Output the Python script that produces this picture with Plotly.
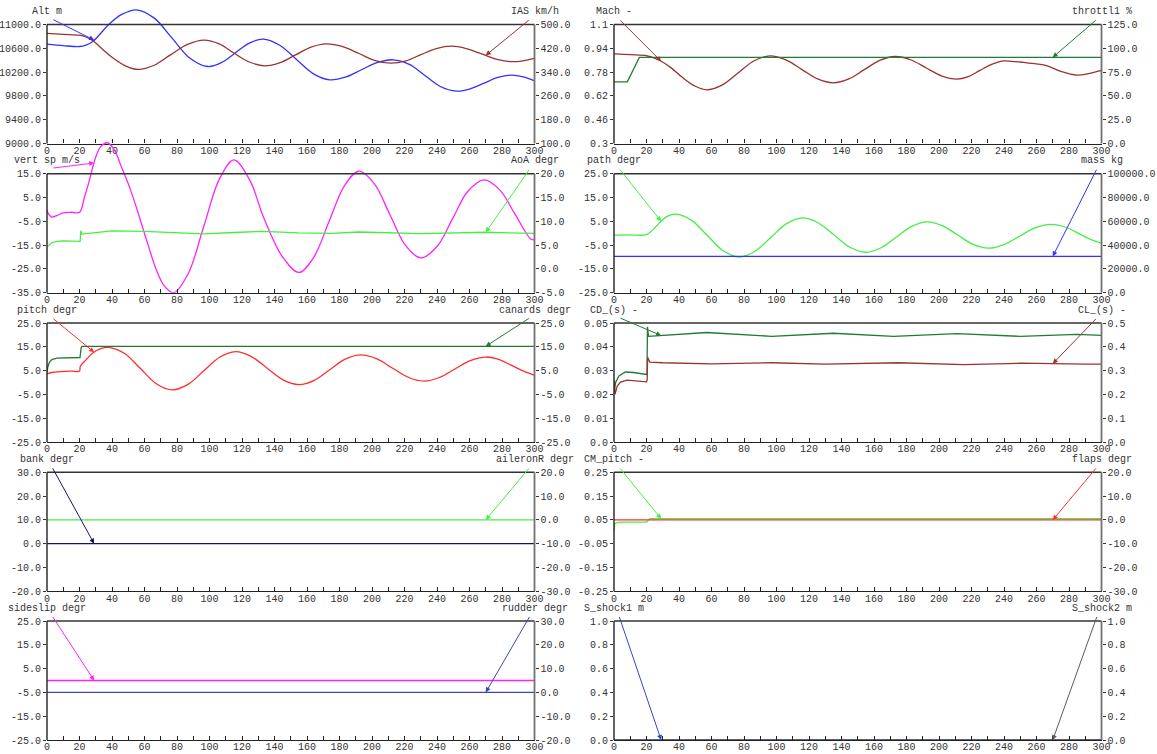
import numpy as np
import plotly.graph_objects as go

# ---------------- data ----------------
alt_t = [0, 10, 20, 24, 28, 33, 38, 46, 55, 66, 77, 88, 99, 107.5, 116, 124.5, 133, 143, 153.5, 164, 174, 184, 193.5, 203, 213, 223, 232.5, 242, 252, 260.5, 269, 277.5, 286, 293, 300]
alt_v = [10670, 10645, 10630, 10655, 10710, 10850, 11000, 11170, 11247, 11107, 10770, 10433, 10294, 10362, 10525, 10688, 10755, 10655, 10413, 10171, 10071, 10120, 10239, 10358, 10407, 10330, 10144, 9958, 9881, 9920, 10015, 10110, 10150, 10120, 10054]

ias_t = [0, 10, 20, 24, 28, 34, 40, 48, 56, 66, 76, 86.5, 96.5, 106, 115, 124.5, 134, 143.5, 153, 162.5, 172, 182, 192, 201.5, 211.5, 221, 230, 239.5, 249, 258, 267.5, 277, 286, 293, 300]
ias_v = [470, 467, 464, 458, 446, 418, 390, 362, 349, 363, 398, 433, 447.6, 435, 404, 374, 361, 372, 398, 424, 435, 425.5, 402.5, 379.5, 370, 378, 398.5, 419, 427, 419, 401, 383, 375, 378, 386]

vs_t = [0, 1, 3, 6, 10, 15, 20, 23, 26, 30, 33, 37, 41, 46, 51.5, 57, 62, 67.5, 72, 78, 87, 96.5, 106, 115, 125, 133, 145, 155, 164, 173.5, 183, 192, 201.5, 211, 220.5, 230, 240, 249.5, 259, 269, 278.5, 288, 297.5, 300]
vs_v = [-0.2, -2.0, -3.2, -2.6, -1.5, -1.2, -1.2, 5, 12, 22, 26.3, 28, 25.5, 17.5, 8, -3.5, -14.5, -25.8, -32, -35, -26.8, -7.1, 12.6, 20.8, 12, -2.85, -20, -26.5, -20.3, -5.2, 9.9, 16.1, 10.75, -2.15, -15, -20.4, -15.6, -4, 7.6, 12.4, 8.3, -2, -12.3, -12.8]

aoa_t = [0, 1, 3, 6, 10, 15, 20, 20.4, 20.8, 21.5, 30, 40, 60, 77, 96, 115, 133, 155, 175, 192, 230, 270, 300]
aoa_v = [4.7, 4.9, 5.5, 5.8, 5.9, 5.8, 5.7, 5.8, 8.0, 7.3, 7.6, 8.0, 7.9, 7.65, 7.35, 7.65, 7.9, 7.55, 7.45, 7.75, 7.4, 7.7, 7.45]

pitch_t = [0, 3, 8, 15, 20, 20.5, 24, 28, 33, 38, 47.75, 57.5, 67.25, 77, 86.75, 96.5, 106.25, 116, 125.75, 135.5, 145.25, 155, 164.5, 174, 183.5, 193, 202.75, 212.5, 222.25, 232, 241.5, 251, 260.5, 270, 277.5, 285, 292.5, 300]
pitch_v = [3.6, 4.2, 4.6, 4.8, 4.8, 6.8, 9.5, 12.3, 14.2, 14.8, 12.2, 5.85, -0.5, -3.1, -0.8, 4.9, 10.6, 12.95, 10.9, 6.0, 1.1, -0.9, 0.9, 5.35, 9.8, 11.6, 10.0, 6.1, 2.2, 0.6, 2.1, 5.65, 9.2, 10.7, 9.8, 7.5, 5.0, 3.1]

canard_t = [0, 0.5, 1.5, 3, 6, 10, 20, 20.3, 21, 21.5, 300]
canard_v = [4.4, 6.5, 8.5, 9.6, 10.2, 10.3, 10.3, 10.5, 14.5, 15.2, 15.2]

bank_t = [0, 300]
bank_v = [0.0, 0.0]
ail_t = [0, 300]
ail_v = [0.0, 0.0]
slip_t = [0, 300]
slip_v = [0.0, 0.0]
rud_t = [0, 300]
rud_v = [0.0, 0.0]

mach_t = [0, 10, 20, 24, 28, 35, 42, 50, 57, 66.75, 76.5, 86.25, 96, 105.75, 115.5, 125.25, 135, 144.5, 154, 163.5, 173, 182.5, 192, 201.5, 211, 218, 225, 232, 238.6, 245, 252, 260, 266.6, 275, 285, 292, 300]
mach_v = [0.903, 0.897, 0.89, 0.878, 0.86, 0.81, 0.745, 0.685, 0.661, 0.694, 0.775, 0.856, 0.889, 0.862, 0.7985, 0.734, 0.708, 0.734, 0.7965, 0.859, 0.885, 0.863, 0.809, 0.755, 0.733, 0.75, 0.79, 0.83, 0.854, 0.852, 0.845, 0.835, 0.822, 0.785, 0.76, 0.77, 0.791]

throt_t = [0, 8.2, 15.6, 300]
throt_v = [64.8, 64.8, 90.5, 90.5]

path_t = [0, 10, 20, 24, 29, 33, 38, 47.75, 57.5, 67.25, 77, 86.75, 96.5, 106.25, 116, 125.75, 135.5, 145.25, 155, 164.4, 173.8, 183.2, 192.6, 202, 211.5, 221, 230.5, 240, 249.5, 259, 268.6, 278, 287, 294, 300]
path_v = [-0.8, -0.7, -0.6, 1.5, 5, 7.2, 8.0, 5.4, -1, -7.4, -10, -7.6, -1.8, 4.0, 6.4, 4.3, -0.8, -5.9, -8, -6.1, -1.6, 2.9, 4.8, 3.2, -0.75, -4.7, -6.3, -4.8, -1.3, 2.2, 3.7, 2.5, -0.5, -2.8, -4.2]

mass_t = [0, 300]
mass_v = [30500, 30500]

cd_t = [0, 0.5, 1, 3, 7, 12, 20, 20.3, 20.6, 21.2, 30, 57, 97, 135, 172, 211, 250, 285, 300]
cd_v = [0.0205, 0.024, 0.025, 0.0278, 0.0294, 0.0292, 0.0284, 0.029, 0.0484, 0.0444, 0.0448, 0.046, 0.0444, 0.0457, 0.0444, 0.0455, 0.0444, 0.0452, 0.0448]

cl_t = [0, 0.6, 2, 4, 8, 14, 20, 20.4, 20.7, 22, 30, 60, 97, 130, 175, 215, 250, 290, 300]
cl_v = [0.262, 0.2, 0.235, 0.252, 0.26, 0.257, 0.253, 0.26, 0.356, 0.336, 0.333, 0.328, 0.333, 0.327, 0.333, 0.325, 0.331, 0.327, 0.327]

cm_t = [0, 0.5, 3, 20, 21, 22, 300]
cm_v = [0.003, 0.035, 0.041, 0.041, 0.048, 0.055, 0.055]

flaps_t = [0, 300]
flaps_v = [0.0, 0.0]
sh1_t = [0, 300]
sh1_v = [0.0, 0.0]
sh2_t = [0, 300]
sh2_v = [0.0, 0.0]

# axis ticks / tick labels
alt_ticks = [9000, 9400, 9800, 10200, 10600, 11000]
alt_labels = ["9000.0", "9400.0", "9800.0", "10200.0", "10600.0", "11000.0"]
ias_ticks = [100, 180, 260, 340, 420, 500]
ias_labels = ["100.0", "180.0", "260.0", "340.0", "420.0", "500.0"]
vs_ticks = [-35, -25, -15, -5, 5, 15]
vs_labels = ["-35.0", "-25.0", "-15.0", "-5.0", "5.0", "15.0"]
aoa_ticks = [-5, 0, 5, 10, 15, 20]
aoa_labels = ["-5.0", "0.0", "5.0", "10.0", "15.0", "20.0"]
pitch_ticks = [-25, -15, -5, 5, 15, 25]
pitch_labels = ["-25.0", "-15.0", "-5.0", "5.0", "15.0", "25.0"]
canard_ticks = [-25, -15, -5, 5, 15, 25]
canard_labels = ["-25.0", "-15.0", "-5.0", "5.0", "15.0", "25.0"]
bank_ticks = [-20, -10, 0, 10, 20, 30]
bank_labels = ["-20.0", "-10.0", "0.0", "10.0", "20.0", "30.0"]
ail_ticks = [-30, -20, -10, 0, 10, 20]
ail_labels = ["-30.0", "-20.0", "-10.0", "0.0", "10.0", "20.0"]
slip_ticks = [-25, -15, -5, 5, 15, 25]
slip_labels = ["-25.0", "-15.0", "-5.0", "5.0", "15.0", "25.0"]
rud_ticks = [-20, -10, 0, 10, 20, 30]
rud_labels = ["-20.0", "-10.0", "0.0", "10.0", "20.0", "30.0"]
mach_ticks = [0.3, 0.46, 0.62, 0.78, 0.94, 1.1]
mach_labels = ["0.3", "0.46", "0.62", "0.78", "0.94", "1.1"]
throt_ticks = [0, 25, 50, 75, 100, 125]
throt_labels = ["0.0", "25.0", "50.0", "75.0", "100.0", "125.0"]
path_ticks = [-25, -15, -5, 5, 15, 25]
path_labels = ["-25.0", "-15.0", "-5.0", "5.0", "15.0", "25.0"]
mass_ticks = [0, 20000, 40000, 60000, 80000, 100000]
mass_labels = ["0.0", "20000.0", "40000.0", "60000.0", "80000.0", "100000.0"]
cd_ticks = [0.0, 0.01, 0.02, 0.03, 0.04, 0.05]
cd_labels = ["0.0", "0.01", "0.02", "0.03", "0.04", "0.05"]
cl_ticks = [0.0, 0.1, 0.2, 0.3, 0.4, 0.5]
cl_labels = ["0.0", "0.1", "0.2", "0.3", "0.4", "0.5"]
cm_ticks = [-0.25, -0.15, -0.05, 0.05, 0.15, 0.25]
cm_labels = ["-0.25", "-0.15", "-0.05", "0.05", "0.15", "0.25"]
flaps_ticks = [-30, -20, -10, 0, 10, 20]
flaps_labels = ["-30.0", "-20.0", "-10.0", "0.0", "10.0", "20.0"]
sh_ticks = [0.0, 0.2, 0.4, 0.6, 0.8, 1.0]
sh_labels = ["0.0", "0.2", "0.4", "0.6", "0.8", "1.0"]

x_ticks = list(range(0, 301, 20))

# ---------------- styling ----------------
C_BLUE = "#3232ff"
C_DRED = "#9a3232"
C_MAG = "#ff22ff"
C_LGRN = "#44ee44"
C_RED = "#ff2e2e"
C_DGRN = "#227a34"
C_NAVY = "#151565"
C_RBLUE = "#3a48b0"
C_GRAY = "#5c5c50"

def S(title, t, v, color, ticks, labels, shape="linear"):
    return dict(title=title, t=t, v=v, color=color, ticks=ticks, labels=labels, shape=shape)

panels = [
    dict(row=0, col=0, L=S("Alt m", alt_t, alt_v, C_BLUE, alt_ticks, alt_labels, "spline"),
         R=S("IAS km/h", ias_t, ias_v, C_DRED, ias_ticks, ias_labels, "spline")),
    dict(row=1, col=0, L=S("vert sp m/s", vs_t, vs_v, C_MAG, vs_ticks, vs_labels, "spline"),
         R=S("AoA degr", aoa_t, aoa_v, C_LGRN, aoa_ticks, aoa_labels)),
    dict(row=2, col=0, L=S("pitch degr", pitch_t, pitch_v, C_RED, pitch_ticks, pitch_labels, "spline"),
         R=S("canards degr", canard_t, canard_v, C_DGRN, canard_ticks, canard_labels)),
    dict(row=3, col=0, L=S("bank degr", bank_t, bank_v, C_NAVY, bank_ticks, bank_labels),
         R=S("aileronR degr", ail_t, ail_v, C_LGRN, ail_ticks, ail_labels)),
    dict(row=4, col=0, L=S("sideslip degr", slip_t, slip_v, C_MAG, slip_ticks, slip_labels),
         R=S("rudder degr", rud_t, rud_v, C_RBLUE, rud_ticks, rud_labels)),
    dict(row=0, col=1, L=S("Mach -", mach_t, mach_v, C_DRED, mach_ticks, mach_labels, "spline"),
         R=S("throttl1 %", throt_t, throt_v, C_DGRN, throt_ticks, throt_labels)),
    dict(row=1, col=1, L=S("path degr", path_t, path_v, C_LGRN, path_ticks, path_labels, "spline"),
         R=S("mass kg", mass_t, mass_v, C_BLUE, mass_ticks, mass_labels)),
    dict(row=2, col=1, L=S("CD_(s) -", cd_t, cd_v, C_DGRN, cd_ticks, cd_labels),
         R=S("CL_(s) -", cl_t, cl_v, C_DRED, cl_ticks, cl_labels)),
    dict(row=3, col=1, L=S("CM_pitch -", cm_t, cm_v, C_LGRN, cm_ticks, cm_labels),
         R=S("flaps degr", flaps_t, flaps_v, C_RED, flaps_ticks, flaps_labels)),
    dict(row=4, col=1, L=S("S_shock1 m", sh1_t, sh1_v, "#3545c0", sh_ticks, sh_labels),
         R=S("S_shock2 m", sh2_t, sh2_v, C_GRAY, sh_ticks, sh_labels)),
]

W, HF = 1157, 754
COL_L = [47.0, 614.0]
COL_W = 487.5
ROW_TOP = [24.5, 173.7, 323.0, 472.3, 621.0]
PH = 119.0
FONT = "Liberation Mono, Courier New, monospace"
TXT = "#333333"

fig = go.Figure()
layout = {}
ann = []
shapes = []

for i, p in enumerate(panels):
    n = i + 1
    xid = "x" if n == 1 else f"x{n}"
    xkey = "xaxis" if n == 1 else f"xaxis{n}"
    ln, rn = 2 * i + 1, 2 * i + 2
    ylid = "y" if ln == 1 else f"y{ln}"
    ylkey = "yaxis" if ln == 1 else f"yaxis{ln}"
    yrid, yrkey = f"y{rn}", f"yaxis{rn}"
    xl = COL_L[p["col"]]
    xr = xl + COL_W
    top = ROW_TOP[p["row"]]
    bot = top + PH
    ext = min(45.0, top - 0.5)
    xdom = [xl / W, xr / W]
    ydom = [1 - bot / HF, 1 - (top - ext) / HF]

    layout[xkey] = dict(
        domain=xdom, anchor=ylid, range=[0, 300], showgrid=False, zeroline=False,
        showline=True, linecolor="#222222", linewidth=1.4, automargin=False,
        tickvals=x_ticks, ticktext=[str(v) for v in x_ticks],
        ticks="inside", ticklen=4, tickcolor="#222222", tickwidth=1,
        ticklabelstandoff=-3,
        minor=dict(tickvals=list(range(10, 300, 20)), ticks="inside", ticklen=4,
                   tickcolor="#222222", tickwidth=1),
        tickfont=dict(family=FONT, size=10, color=TXT), fixedrange=True,
    )

    for side, s, yid, ykey in (("left", p["L"], ylid, ylkey), ("right", p["R"], yrid, yrkey)):
        lo, hi = s["ticks"][0], s["ticks"][-1]
        span = hi - lo
        ax = dict(
            domain=ydom, range=[lo, hi + span * ext / PH], anchor=xid, side=side,
            tickvals=s["ticks"], ticktext=s["labels"], ticks="outside", ticklen=3,
            tickcolor="#333333", showgrid=False, zeroline=False, showline=False,
            automargin=False,
            tickfont=dict(family=FONT, size=10, color=TXT), fixedrange=True,
        )
        if side == "right":
            ax["overlaying"] = ylid
        layout[ykey] = ax
        fig.add_trace(go.Scatter(
            x=s["t"], y=s["v"], xaxis=xid, yaxis=yid, mode="lines",
            line=dict(color=s["color"], width=1.3, shape=s["shape"]),
            hoverinfo="skip", showlegend=False,
        ))
        # title
        ann.append(dict(
            xref="paper", yref="paper", x=(xl if side == "left" else xr) / W,
            y=1 - (top - 13) / HF, text=s["title"], showarrow=False,
            xanchor="center", yanchor="middle",
            font=dict(family=FONT, size=10, color=TXT),
        ))
        # arrow from title towards curve
        hx = 29 if side == "left" else 270
        tx = 3 if side == "left" else 297.4
        hy = float(np.interp(hx, s["t"], s["v"]))
        ann.append(dict(
            xref=xid, yref=yid, x=hx, y=hy, axref=xid, ayref=yid, ax=tx,
            ay=hi + span * 5.5 / PH, text="", showarrow=True, arrowhead=2,
            arrowsize=1, arrowwidth=1, arrowcolor=s["color"], standoff=0,
        ))

    # frame: top, left, right
    yt, yb = 1 - top / HF, 1 - bot / HF
    shapes.append(dict(type="line", xref="paper", yref="paper", x0=xdom[0], x1=xdom[1],
                       y0=yt, y1=yt, line=dict(color="#333333", width=1.6)))
    shapes.append(dict(type="line", xref="paper", yref="paper", x0=xdom[0], x1=xdom[0],
                       y0=yb, y1=yt, line=dict(color="#222222", width=1.4)))
    shapes.append(dict(type="line", xref="paper", yref="paper", x0=xdom[1], x1=xdom[1],
                       y0=yb, y1=yt, line=dict(color="#707070", width=1.8)))

fig.update_layout(
    width=W, height=HF, margin=dict(l=0, r=0, t=0, b=0, autoexpand=False),
    paper_bgcolor="white", plot_bgcolor="rgba(0,0,0,0)",
    showlegend=False, hovermode=False, annotations=ann, shapes=shapes,
    **layout,
)
fig.write_html("out.html", config={"displayModeBar": False},
               post_script="document.body.style.margin='0px';document.body.style.overflow='hidden';")
